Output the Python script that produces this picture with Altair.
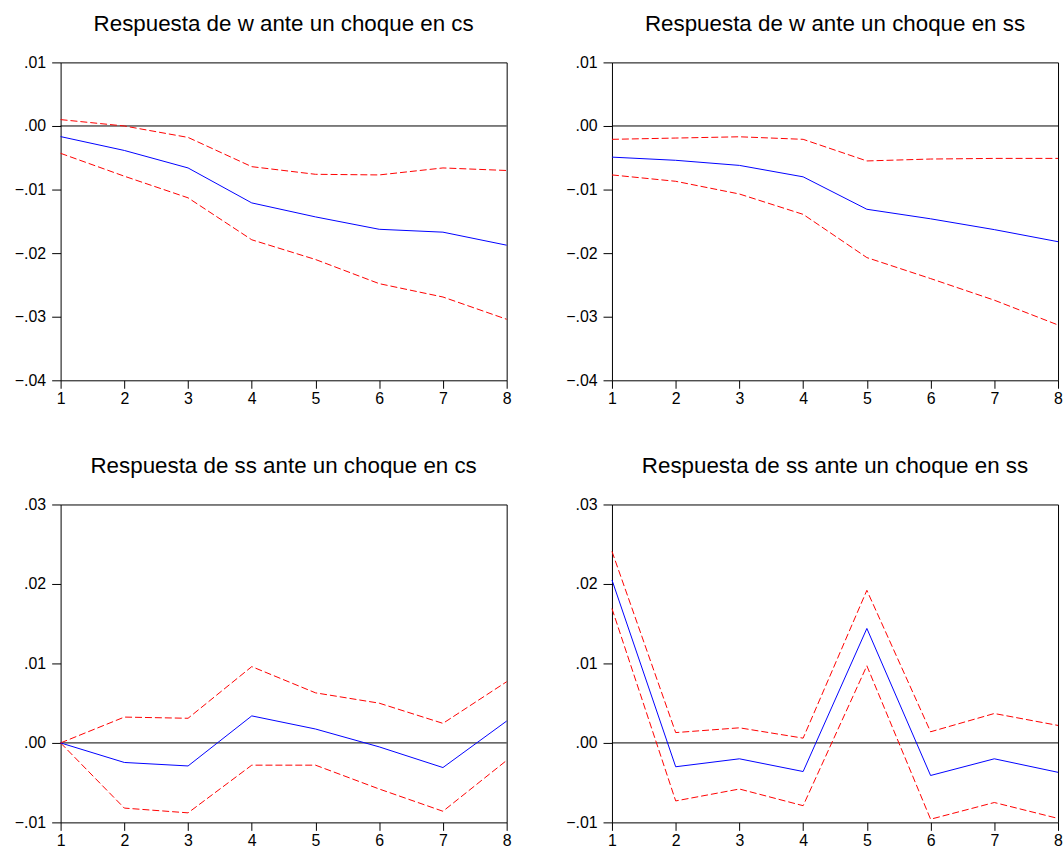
import altair as alt
import pandas as pd

periods = [1, 2, 3, 4, 5, 6, 7, 8]

# Response of w to a shock in cs
w_cs_resp = [-0.00167, -0.00385, -0.0066, -0.0121, -0.0143, -0.01625, -0.0167, -0.01875]
w_cs_upper = [0.0010, 0.0000, -0.0018, -0.0064, -0.0076, -0.0077, -0.0066, -0.0070]
w_cs_lower = [-0.0043, -0.0079, -0.0113, -0.0179, -0.0210, -0.0248, -0.0269, -0.0304]

# Response of w to a shock in ss
w_ss_resp = [-0.0049, -0.0054, -0.0062, -0.0080, -0.0131, -0.0146, -0.0163, -0.0182]
w_ss_upper = [-0.0021, -0.0019, -0.0017, -0.0021, -0.0055, -0.0052, -0.0051, -0.0051]
w_ss_lower = [-0.0077, -0.0087, -0.0107, -0.0139, -0.0207, -0.0240, -0.0274, -0.0313]

# Response of ss to a shock in cs
ss_cs_resp = [0.0, -0.00246, -0.0029, 0.0034, 0.00175, -0.0005, -0.0031, 0.00275]
ss_cs_upper = [0.0, 0.00325, 0.0031, 0.0096, 0.0063, 0.0050, 0.00246, 0.0077]
ss_cs_lower = [0.0, -0.0082, -0.0088, -0.0028, -0.0028, -0.0058, -0.0086, -0.0022]

# Response of ss to a shock in ss
ss_ss_resp = [0.0205, -0.0030, -0.0020, -0.0036, 0.0144, -0.0041, -0.0020, -0.0037]
ss_ss_upper = [0.0241, 0.0013, 0.0019, 0.0006, 0.0192, 0.0014, 0.0037, 0.0022]
ss_ss_lower = [0.0169, -0.0073, -0.0058, -0.0079, 0.0097, -0.0096, -0.0075, -0.0095]

top_ticks = [0.01, 0.0, -0.01, -0.02, -0.03, -0.04]
bottom_ticks = [0.03, 0.02, 0.01, 0.0, -0.01]

FONT = "Liberation Sans"
PW, PH = 449, 320


def panel(title, resp, upper, lower, domain, ticks):
    rows = []
    for name, vals in (("resp", resp), ("upper", upper), ("lower", lower)):
        for p, v in zip(periods, vals):
            rows.append({"period": p, "value": v, "series": name})
    df = pd.DataFrame(rows)

    x = alt.X(
        "period:Q",
        scale=alt.Scale(domain=[1, 8], nice=False, zero=False),
        axis=alt.Axis(values=periods, format="d", title=None, grid=False,
                      tickSize=8, labelPadding=2, domain=False,
                      labelFont=FONT, labelFontSize=16, labelColor="black",
                      tickColor="black", labelFlush=False,
                      minExtent=26, maxExtent=26),
    )
    y = alt.Y(
        "value:Q",
        scale=alt.Scale(domain=domain, nice=False, zero=False),
        axis=alt.Axis(values=ticks, title=None, grid=False, tickSize=9,
                      labelPadding=6, domain=False,
                      labelFont=FONT, labelFontSize=16, labelColor="black",
                      tickColor="black", labelFlush=False,
                      labelExpr="replace(format(datum.value, '.2f'), '0.', '.')",
                      minExtent=50, maxExtent=50),
    )

    zero = alt.Chart(pd.DataFrame({"value": [0.0]})).mark_rule(
        color="black", strokeWidth=1
    ).encode(y=alt.Y("value:Q", scale=alt.Scale(domain=domain, nice=False, zero=False)))

    bands = alt.Chart(df).transform_filter(
        "datum.series != 'resp'"
    ).mark_line(color="#ff0000", strokeWidth=1, strokeDash=[7, 3]).encode(
        x=x, y=y, detail="series:N"
    )
    line = alt.Chart(df).transform_filter(
        "datum.series == 'resp'"
    ).mark_line(color="#0000ff", strokeWidth=1).encode(x=x, y=y)

    return alt.layer(zero, bands, line).properties(
        width=PW, height=PH,
        title=alt.TitleParams(title, fontSize=22.5, font=FONT, fontWeight="normal",
                              color="black", offset=19, anchor="middle"),
    )


tl = panel("Respuesta de w ante un choque en cs", w_cs_resp, w_cs_upper, w_cs_lower,
           [-0.04, 0.01], top_ticks)
tr = panel("Respuesta de w ante un choque en ss", w_ss_resp, w_ss_upper, w_ss_lower,
           [-0.04, 0.01], top_ticks)
bl = panel("Respuesta de ss ante un choque en cs", ss_cs_resp, ss_cs_upper, ss_cs_lower,
           [-0.01, 0.03], bottom_ticks)
br = panel("Respuesta de ss ante un choque en ss", ss_ss_resp, ss_ss_upper, ss_ss_lower,
           [-0.01, 0.03], bottom_ticks)

chart = alt.vconcat(
    alt.hconcat(tl, tr, spacing=50),
    alt.hconcat(bl, br, spacing=50),
    spacing=48,
).properties(
    padding={"left": 10, "top": 10, "right": 0, "bottom": 0},
    background="white",
).configure_view(
    stroke="black", strokeWidth=1
)

chart.save("out.html", embed_options={"renderer": "svg", "actions": False})
